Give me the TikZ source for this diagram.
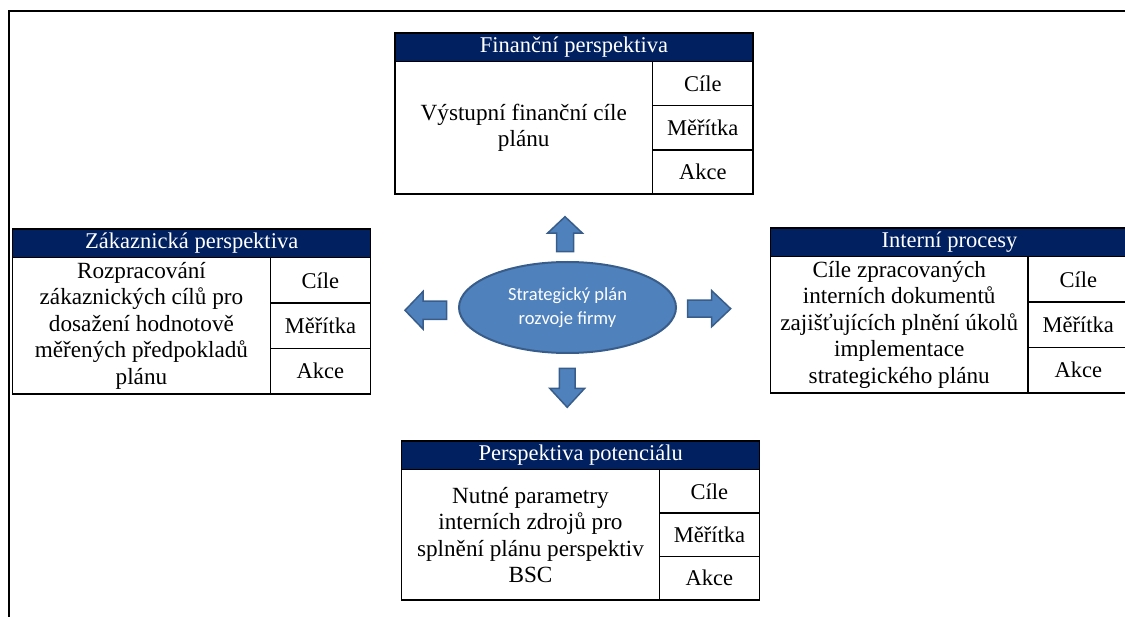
\documentclass[tikz,border=0pt]{standalone}
\usepackage{fontspec}
\setmainfont{Liberation Serif}
\newfontfamily\planfont{Carlito}
\usetikzlibrary{shapes.geometric}

\definecolor{headnavy}{RGB}{0,32,96}
\definecolor{planblue}{RGB}{79,129,189}
\definecolor{planedge}{RGB}{56,93,138}

\tikzset{
  boxtext/.style={font=\fontsize{22.5}{26}\selectfont},
  headbox/.style={boxtext, rectangle, draw=black, line width=1.3pt, fill=headnavy,
    text=white, minimum width=358pt, minimum height=28.7pt, inner sep=0pt, outer sep=0pt},
  bodybox/.style={font=\fontsize{23.2}{26.5}\selectfont, rectangle, draw=black,
    line width=1.3pt, fill=white, minimum width=257.5pt, inner sep=0pt, outer sep=0pt,
    align=center},
  cellbox/.style={boxtext, rectangle, draw=black, line width=1.3pt, fill=white,
    minimum width=100.5pt, inner sep=0pt, outer sep=0pt},
  planshape/.style={ellipse, draw=planedge, line width=2pt, fill=planblue,
    minimum width=217pt, minimum height=91pt, inner sep=0pt, text=white,
    align=center, font=\planfont\fontsize{18.5}{24.5}\selectfont},
  arrowbody/.style={draw=planedge, line width=1.5pt, fill=planblue, line join=miter},
  % block arrow pointing along +x: length / shaft width / head width / head length
  pics/blockarrow/.style args={#1/#2/#3/#4}{code={
    \draw[arrowbody] (0,-#2/2) -- (#1-#4,-#2/2) -- (#1-#4,-#3/2) -- (#1,0)
      -- (#1-#4,#3/2) -- (#1-#4,#2/2) -- (0,#2/2) -- cycle;}},
  frameline/.style={line width=2pt, draw=black}
}

% one perspective box: id, left x, top y, bottom y, title, description
\newcommand\perspbox[6]{%
  \pgfmathsetmacro\bodyh{#4-#3-28.7}%
  \pgfmathsetmacro\rowh{\bodyh/3}%
  \node[headbox, anchor=north west] (#1-head) at (#2,#3) {#5};
  \node[bodybox, anchor=north west, minimum height=\bodyh pt] (#1-body)
    at (#1-head.south west) {#6};
  \node[cellbox, anchor=north east, minimum height=\rowh pt] (#1-goal)
    at (#1-head.south east) {Cíle};
  \node[cellbox, anchor=north, minimum height=\rowh pt] (#1-measure)
    at (#1-goal.south) {Měřítka};
  \node[cellbox, anchor=north, minimum height=\rowh pt] (#1-action)
    at (#1-measure.south) {Akce};
}

\begin{document}
\begin{tikzpicture}[x=1pt, y=-1pt]
  \useasboundingbox (0,0) rectangle (1125,617);

  % page frame
  \coordinate (frameTR) at (1130,10.8);
  \coordinate (frameTL) at (8.7,10.8);
  \coordinate (frameBL) at (8.7,620);
  \draw[frameline] (frameTR) -- (frameTL) -- (frameBL);

  % four perspectives
  \perspbox{fin}{395}{33}{194}{Finanční perspektiva}{Výstupní finanční cíle\\plánu}
  \perspbox{cust}{12.7}{229}{394}{Zákaznická perspektiva}%
    {Rozpracování\\zákaznických cílů pro\\dosažení hodnotově\\měřených předpokladů\\plánu}
  \perspbox{proc}{770.5}{228}{393}{Interní procesy}%
    {Cíle zpracovaných\\interních dokumentů\\zajišťujících plnění úkolů\\implementace\\strategického plánu}
  \perspbox{pot}{401.7}{441}{600}{Perspektiva potenciálu}%
    {Nutné parametry\\interních zdrojů pro\\splnění plánu perspektiv\\BSC}

  % central plan
  \node[planshape] (plan) at (567.5,307.5) {Strategický plán\\rozvoje firmy};

  % block arrows around the plan
  \pic[rotate=90]  (arrUp)    at (565,251.7)   {blockarrow=35/17/35/16.5};
  \pic[rotate=180] (arrLeft)  at (446.7,310.3) {blockarrow=41.7/18.3/37.6/18};
  \pic             (arrRight) at (687.7,308.7) {blockarrow=43/17/36/19};
  \pic[rotate=-90] (arrDown)  at (567.2,368.3) {blockarrow=39/15.7/35/19};
\end{tikzpicture}
\end{document}
